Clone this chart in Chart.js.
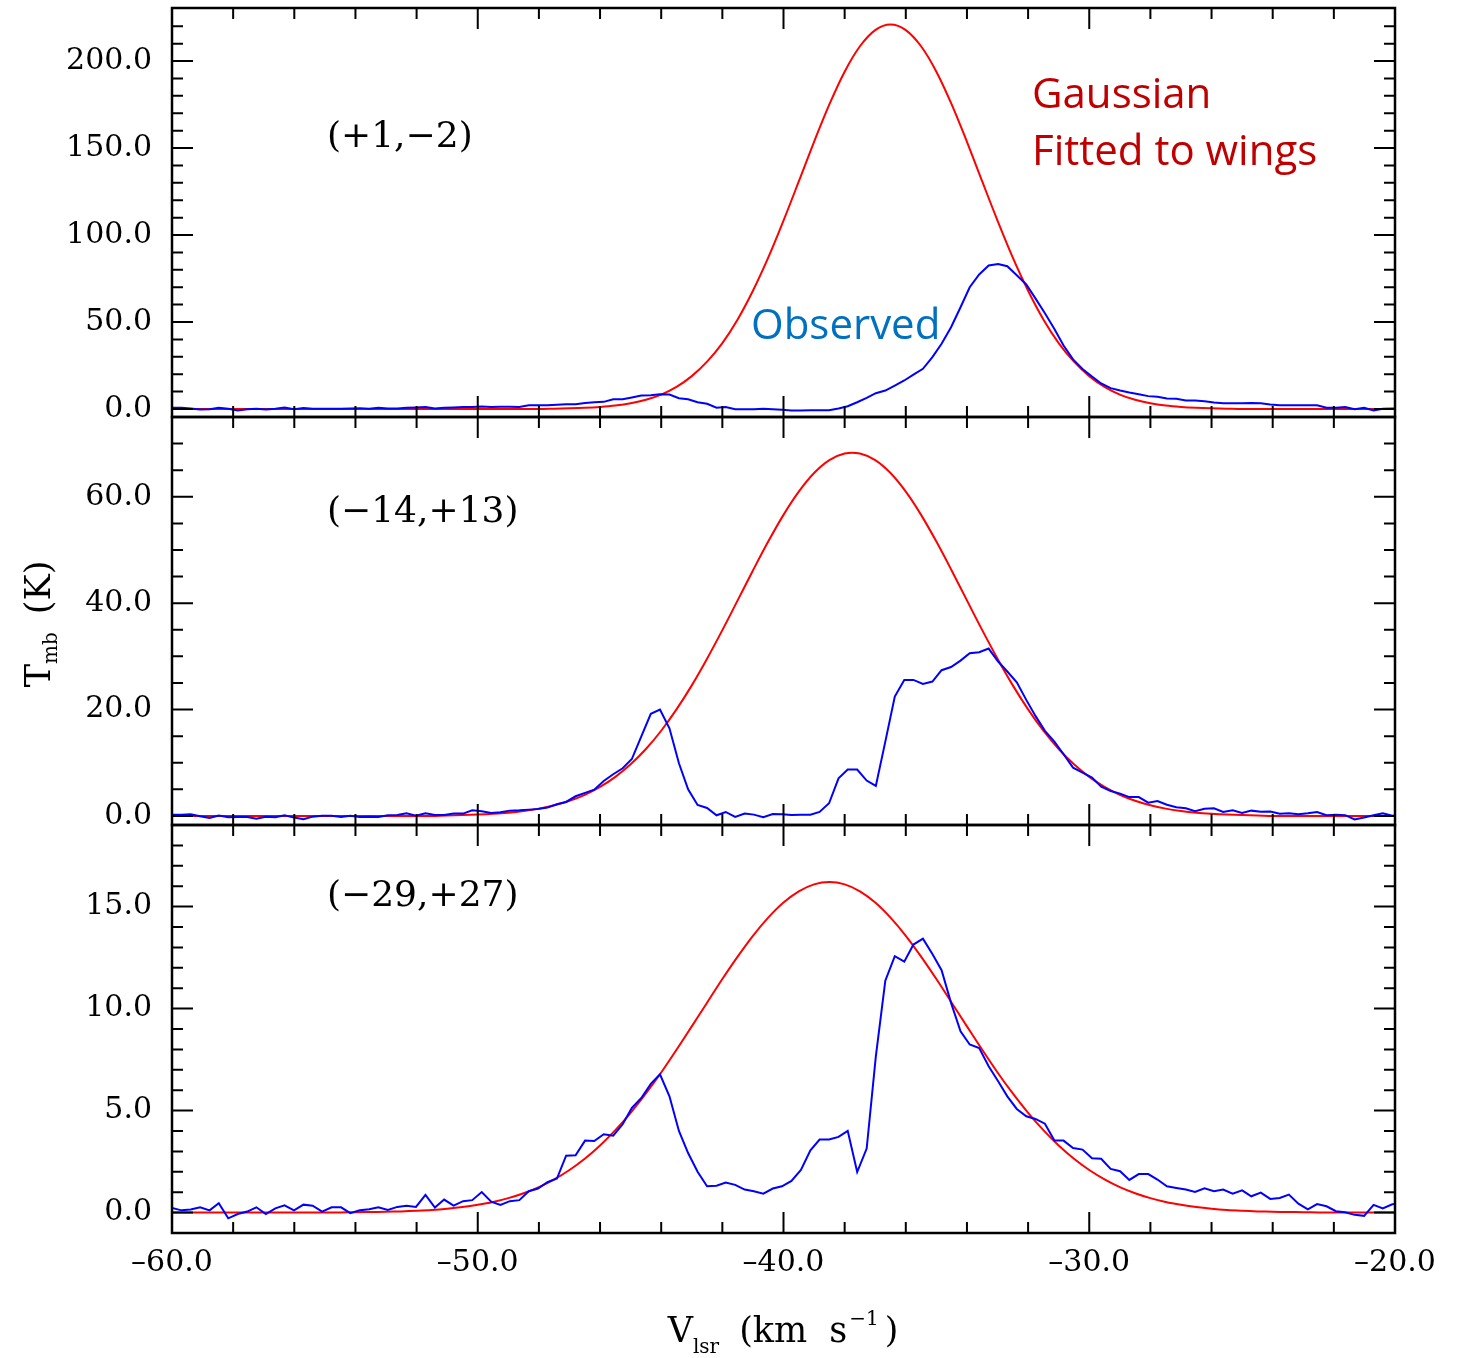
<!DOCTYPE html>
<html>
<head>
<meta charset="utf-8">
<title>Tmb spectra with Gaussian fits</title>
<script src="https://cdn.jsdelivr.net/npm/chart.js@4.4.1/dist/chart.umd.min.js"></script>
<style>
  html, body { margin: 0; padding: 0; background: #fff; }
  #wrap { position: relative; width: 1461px; height: 1358px; }
  #wrap canvas { position: absolute; left: 0; top: 0; }
</style>
</head>
<body>
<div id="wrap">
  <canvas id="panelTop" width="1461" height="1358"></canvas>
  <canvas id="panelMid" width="1461" height="1358"></canvas>
  <canvas id="panelBot" width="1461" height="1358"></canvas>
</div>
<script>
// channel velocities of the observed spectra (km/s)
const velocity = [
  -60.00, -59.69, -59.39, -59.08, -58.77, -58.47, -58.16, -57.85, -57.54, -57.24,
  -56.93, -56.62, -56.32, -56.01, -55.70, -55.40, -55.09, -54.78, -54.47, -54.17,
  -53.86, -53.55, -53.25, -52.94, -52.63, -52.33, -52.02, -51.71, -51.40, -51.10,
  -50.79, -50.48, -50.18, -49.87, -49.56, -49.26, -48.95, -48.64, -48.33, -48.03,
  -47.72, -47.41, -47.11, -46.80, -46.49, -46.19, -45.88, -45.57, -45.26, -44.96,
  -44.65, -44.34, -44.04, -43.73, -43.42, -43.12, -42.81, -42.50, -42.19, -41.89,
  -41.58, -41.27, -40.97, -40.66, -40.35, -40.05, -39.74, -39.43, -39.12, -38.82,
  -38.51, -38.20, -37.90, -37.59, -37.28, -36.98, -36.67, -36.36, -36.05, -35.75,
  -35.44, -35.13, -34.83, -34.52, -34.21, -33.91, -33.60, -33.29, -32.98, -32.68,
  -32.37, -32.06, -31.76, -31.45, -31.14, -30.84, -30.53, -30.22, -29.91, -29.61,
  -29.30, -28.99, -28.69, -28.38, -28.07, -27.77, -27.46, -27.15, -26.84, -26.54,
  -26.23, -25.92, -25.62, -25.31, -25.00, -24.70, -24.39, -24.08, -23.77, -23.47,
  -23.16, -22.85, -22.55, -22.24, -21.93, -21.63, -21.32, -21.01, -20.70, -20.40,
  -20.09, -19.78
];

// observed Tmb (K), position (+1,-2)
const obsTop = [
  0.7, 0.7, 0.3, -0.3, -0.1, 0.7, 0.1, -0.9, -0.1, 0.1,
  -0.3, 0.1, 0.9, -0.1, 0.5, 0.1, 0.1, 0.1, 0.1, 0.3,
  0.5, 0.1, 0.7, 0.3, 0.3, 0.7, 0.9, 1.1, 0.3, 0.7,
  0.9, 1.1, 1.1, 1.5, 1.1, 1.3, 1.3, 1.1, 2.1, 2.1,
  2.1, 2.5, 2.7, 2.7, 3.5, 3.9, 4.1, 5.6, 5.6, 6.6,
  7.7, 7.9, 8.5, 8.3, 6.2, 5.6, 3.9, 3.0, 0.7, 1.1,
  -0.1, -0.1, -0.1, 0.1, -0.1, -0.5, -0.9, -0.9, -0.7, -0.7,
  -0.7, 0.3, 1.6, 3.9, 6.4, 9.1, 10.6, 13.5, 16.4, 19.8,
  23.1, 29.8, 37.5, 47.0, 58.5, 70.0, 77.3, 82.5, 83.4, 82.1,
  76.9, 71.6, 63.6, 55.0, 46.0, 36.5, 28.5, 23.0, 18.7, 14.7,
  12.0, 10.6, 9.5, 8.5, 7.4, 7.0, 6.0, 5.9, 4.9, 4.9,
  4.5, 3.7, 3.3, 3.3, 3.3, 3.5, 3.3, 2.6, 2.2, 2.2,
  2.2, 2.2, 2.2, 0.7, 0.7, 1.1, -0.2, 0.7, -0.9, 0.1,
  0.3, 0.3
];

// observed Tmb (K), position (-14,+13)
const obsMid = [
  0.25, 0.25, 0.31, -0.06, -0.38, 0.06, -0.25, -0.19, -0.19, -0.50,
  -0.13, -0.25, 0.13, -0.31, -0.63, -0.13, 0.06, 0.06, -0.19, 0.06,
  -0.19, -0.13, -0.19, 0.13, 0.19, 0.50, 0.06, 0.50, 0.19, 0.19,
  0.44, 0.44, 1.07, 0.88, 0.56, 0.69, 1.00, 1.07, 1.19, 1.32,
  1.57, 2.19, 2.63, 3.70, 4.33, 4.95, 6.58, 7.84, 8.97, 10.70,
  14.95, 19.20, 20.00, 16.49, 9.91, 5.01, 2.07, 1.50, 0.13, 0.75,
  -0.19, 0.44, 0.25, -0.25, 0.38, 0.31, 0.19, 0.25, 0.25, 0.75,
  2.38, 7.08, 8.71, 8.71, 6.65, 5.64, 13.98, 22.44, 25.58, 25.58,
  24.83, 25.27, 27.40, 28.00, 29.20, 30.59, 30.78, 31.47, 29.03, 27.15,
  25.14, 21.82, 18.81, 15.99, 13.98, 11.60, 9.09, 8.15, 7.20, 5.50,
  4.70, 4.20, 3.55, 3.55, 2.50, 2.80, 2.10, 1.65, 1.45, 0.90,
  1.35, 1.45, 0.75, 1.05, 0.55, 1.00, 0.80, 0.85, 0.40, 0.50,
  0.30, 0.50, 0.75, 0.15, 0.25, 0.15, -0.65, -0.30, 0.15, 0.50,
  0.05, 0.10
];

// observed Tmb (K), position (-29,+27)
const obsBot = [
  0.23, 0.11, 0.15, 0.26, 0.11, 0.46, -0.28, -0.07, 0.05, 0.26,
  -0.07, 0.21, 0.36, 0.11, 0.39, 0.34, 0.05, 0.26, 0.26, -0.03,
  0.11, 0.16, 0.26, 0.13, 0.28, 0.33, 0.28, 0.87, 0.25, 0.64,
  0.34, 0.56, 0.61, 1.01, 0.54, 0.38, 0.56, 0.61, 1.05, 1.18,
  1.49, 1.67, 2.79, 2.81, 3.53, 3.51, 3.84, 3.77, 4.33, 5.13,
  5.62, 6.31, 6.78, 5.70, 4.00, 2.92, 2.00, 1.29, 1.32, 1.47,
  1.36, 1.13, 1.05, 0.93, 1.18, 1.29, 1.55, 2.09, 3.05, 3.58,
  3.58, 3.71, 4.01, 1.99, 3.14, 7.66, 11.37, 12.57, 12.30, 13.14,
  13.43, 12.68, 11.88, 10.28, 8.89, 8.24, 8.07, 7.17, 6.44, 5.70,
  5.08, 4.72, 4.59, 4.36, 3.53, 3.53, 3.17, 3.09, 2.66, 2.64,
  2.14, 2.03, 1.60, 1.89, 1.89, 1.62, 1.29, 1.21, 1.13, 1.01,
  1.19, 1.05, 1.13, 0.93, 1.09, 0.80, 0.98, 0.67, 0.72, 0.88,
  0.44, 0.16, 0.42, 0.31, 0.07, 0.02, -0.11, -0.16, 0.38, 0.21,
  0.41, 0.45
];

const fitVelocity = [
  -60, -59.5, -59, -58.5, -58, -57.5, -57, -56.5, -56, -55.5,
  -55, -54.5, -54, -53.5, -53, -52.5, -52, -51.5, -51, -50.5,
  -50, -49.5, -49, -48.5, -48, -47.5, -47, -46.5, -46, -45.5,
  -45, -44.5, -44, -43.5, -43, -42.5, -42, -41.5, -41, -40.5,
  -40, -39.5, -39, -38.5, -38, -37.5, -37, -36.5, -36, -35.5,
  -35, -34.5, -34, -33.5, -33, -32.5, -32, -31.5, -31, -30.5,
  -30, -29.5, -29, -28.5, -28, -27.5, -27, -26.5, -26, -25.5,
  -25, -24.5, -24, -23.5, -23, -22.5, -22, -21.5, -21, -20.5,
  -20
];

const fitTop = [
  0, 0, 0, 0, 0, 0, 0, 0, 0, 0,
  0, 0, 0, 0, 0, 0, 0, 0, 0, 0,
  0, 0, 0, 0, 0, 0.2, 0.4, 0.7, 1.2, 2.0,
  3.3, 5.3, 8.3, 12.7, 18.9, 27.2, 37.9, 51.5, 68.0, 87.0,
  108.3, 130.8, 153.6, 175.1, 193.9, 208.5, 217.8, 221.0, 217.8, 208.5,
  193.9, 175.1, 153.6, 130.8, 108.3, 87.0, 68.0, 51.5, 37.9, 27.2,
  18.9, 12.7, 8.3, 5.3, 3.3, 2.0, 1.2, 0.7, 0.4, 0.2,
  0, 0, 0, 0, 0, 0, 0, 0, 0, 0,
  0
];

const fitMid = [
  0, 0, 0, 0, 0, 0, 0, 0, 0, 0,
  0, 0, 0, 0, 0, 0, 0, 0, 0.10, 0.16,
  0.26, 0.41, 0.62, 0.94, 1.38, 2.00, 2.85, 3.98, 5.46, 7.35,
  9.71, 12.59, 16.02, 20.03, 24.55, 29.56, 34.93, 40.52, 46.15, 51.58,
  56.60, 60.96, 64.46, 66.89, 68.14, 68.14, 66.89, 64.46, 60.96, 56.60,
  51.58, 46.15, 40.52, 34.93, 29.56, 24.55, 20.03, 16.02, 12.59, 9.71,
  7.35, 5.46, 3.98, 2.85, 2.00, 1.38, 0.94, 0.62, 0.41, 0.26,
  0.16, 0.10, 0, 0, 0, 0, 0, 0, 0, 0,
  0
];

const fitBot = [
  0, 0, 0, 0, 0, 0, 0, 0, 0, 0,
  0, 0.01, 0.02, 0.03, 0.04, 0.06, 0.09, 0.13, 0.19, 0.27,
  0.38, 0.52, 0.71, 0.95, 1.25, 1.63, 2.09, 2.64, 3.29, 4.04,
  4.89, 5.84, 6.87, 7.98, 9.13, 10.29, 11.45, 12.55, 13.57, 14.46,
  15.20, 15.75, 16.09, 16.20, 16.09, 15.75, 15.20, 14.46, 13.57, 12.55,
  11.45, 10.29, 9.13, 7.98, 6.87, 5.84, 4.89, 4.04, 3.29, 2.64,
  2.09, 1.63, 1.25, 0.95, 0.71, 0.52, 0.38, 0.27, 0.19, 0.13,
  0.09, 0.06, 0.04, 0.03, 0.02, 0.01, 0, 0, 0, 0,
  0
];

// tick positions
const xMajor = [-60, -50, -40, -30, -20];
const xMinor = [-58, -56, -54, -52, -48, -46, -44, -42, -38, -36, -34, -32, -28, -26, -24, -22];
const yMajorTop = [0, 50, 100, 150, 200];
const yMinorTop = [10, 20, 30, 40, 60, 70, 80, 90, 110, 120, 130, 140, 160, 170, 180, 190, 210, 220];
const yMajorMid = [0, 20, 40, 60];
const yMinorMid = [5, 10, 15, 25, 30, 35, 45, 50, 55, 65, 70];
const yMajorBot = [0, 5, 10, 15];
const yMinorBot = [1, 2, 3, 4, 6, 7, 8, 9, 11, 12, 13, 14, 16, 17, 18];

const SERIF = '"DejaVu Serif", "Liberation Serif", serif';
const SANS = '"Open Sans", "Noto Sans", sans-serif';

function fmtTick(v) {
  return Number(v).toFixed(1).replace('-', '\u2013');
}

function drawRuns(ctx, runs, x, y) {
  runs.forEach(function (r) {
    ctx.font = r.size + 'px ' + SERIF;
    ctx.fillText(r.text, x, y + (r.dy || 0));
    x += ctx.measureText(r.text).width + (r.gap || 0);
  });
}

function runsWidth(ctx, runs) {
  let w = 0;
  runs.forEach(function (r) {
    ctx.font = r.size + 'px ' + SERIF;
    w += ctx.measureText(r.text).width + (r.gap || 0);
  });
  return w;
}

// frame, inward ticks and the text drawn inside each panel
const frameTicks = {
  id: 'frameTicks',
  afterDatasetsDraw: function (chart, args, opts) {
    const ctx = chart.ctx;
    const a = chart.chartArea;
    const xs = chart.scales.x;
    const ys = chart.scales.y;
    ctx.save();
    ctx.strokeStyle = '#000';
    ctx.lineWidth = 2;
    ctx.beginPath();
    function vTick(v, len) {
      const px = xs.getPixelForValue(v);
      ctx.moveTo(px, a.top); ctx.lineTo(px, a.top + len);
      ctx.moveTo(px, a.bottom); ctx.lineTo(px, a.bottom - len);
    }
    function hTick(v, len) {
      const py = ys.getPixelForValue(v);
      ctx.moveTo(a.left, py); ctx.lineTo(a.left + len, py);
      ctx.moveTo(a.right, py); ctx.lineTo(a.right - len, py);
    }
    xMajor.forEach(v => vTick(v, 21));
    xMinor.forEach(v => vTick(v, 11));
    opts.yMajor.forEach(v => hTick(v, 21));
    opts.yMinor.forEach(v => hTick(v, 11));
    ctx.stroke();
    ctx.lineWidth = 2.5;
    ctx.strokeRect(a.left, a.top, a.right - a.left, a.bottom - a.top);

    ctx.fillStyle = '#000';
    ctx.textAlign = 'left';
    ctx.textBaseline = 'middle';
    ctx.font = '36px ' + SERIF;
    ctx.fillText(opts.label, opts.labelX, opts.labelY);

    ctx.textBaseline = 'alphabetic';
    (opts.notes || []).forEach(function (n) {
      ctx.fillStyle = n.color;
      ctx.font = '42px ' + SANS;
      ctx.fillText(n.text, n.x, n.y);
    });

    if (opts.axisTitles) {
      ctx.fillStyle = '#000';
      const xTitle = [
        { text: 'V', size: 35 },
        { text: 'lsr', size: 20, dy: 11, gap: 20 },
        { text: '(km', size: 35, gap: 22 },
        { text: 's', size: 35, gap: 2 },
        { text: '\u22121', size: 20, dy: -17, gap: 6 },
        { text: ')', size: 35 }
      ];
      drawRuns(ctx, xTitle, 783 - runsWidth(ctx, xTitle) / 2, 1342);

      const yTitle = [
        { text: 'T', size: 35 },
        { text: 'mb', size: 20, dy: 7, gap: 18 },
        { text: '(K)', size: 35 }
      ];
      ctx.save();
      ctx.translate(50, 624);
      ctx.rotate(-Math.PI / 2);
      drawRuns(ctx, yTitle, -runsWidth(ctx, yTitle) / 2, 0);
      ctx.restore();
    }
    ctx.restore();
  }
};

function makePanel(id, cfg) {
  return new Chart(document.getElementById(id), {
    type: 'line',
    data: {
      datasets: [
        {
          label: 'Observed',
          data: velocity.map((v, i) => ({ x: v, y: cfg.obs[i] })),
          borderColor: '#0000ff',
          borderWidth: 2,
          pointRadius: 0,
          tension: 0
        },
        {
          label: 'Gaussian fitted to wings',
          data: fitVelocity.map((v, i) => ({ x: v, y: cfg.fit[i] })),
          borderColor: '#ff0000',
          borderWidth: 2,
          pointRadius: 0,
          tension: 0.35
        }
      ]
    },
    options: {
      responsive: false,
      animation: false,
      events: [],
      layout: { padding: { top: cfg.padTop, bottom: cfg.padBottom, left: 0, right: 66 } },
      plugins: {
        legend: { display: false },
        tooltip: { enabled: false },
        frameTicks: {
          yMajor: cfg.yMajor,
          yMinor: cfg.yMinor,
          label: cfg.label,
          labelX: 327,
          labelY: cfg.labelY,
          notes: cfg.notes,
          axisTitles: cfg.showX
        }
      },
      scales: {
        x: {
          type: 'linear',
          min: -60,
          max: -20,
          display: cfg.showX,
          grid: { display: false, drawTicks: false },
          border: { display: false },
          ticks: {
            font: { family: SERIF, size: 30 },
            color: '#000',
            padding: 12,
            maxRotation: 0,
            autoSkip: false,
            callback: fmtTick
          },
          afterBuildTicks: function (s) { s.ticks = xMajor.map(v => ({ value: v })); },
          afterFit: function (s) {
            s.height = cfg.showX ? 125 : 0;
            s.paddingLeft = 0;
            s.paddingRight = 0;
          }
        },
        y: {
          type: 'linear',
          min: cfg.yMin,
          max: cfg.yMax,
          grid: { display: false, drawTicks: false },
          border: { display: false },
          ticks: {
            font: { family: SERIF, size: 30 },
            color: '#000',
            padding: 20,
            autoSkip: false,
            callback: fmtTick
          },
          afterBuildTicks: function (s) { s.ticks = cfg.yMajor.map(v => ({ value: v })); },
          afterFit: function (s) { s.width = 172; s.paddingTop = 0; s.paddingBottom = 0; }
        }
      }
    },
    plugins: [frameTicks]
  });
}

makePanel('panelTop', {
  obs: obsTop, fit: fitTop,
  yMin: -4.6, yMax: 230.5,
  yMajor: yMajorTop, yMinor: yMinorTop,
  padTop: 8, padBottom: 1358 - 417,
  label: '(+1,\u22122)', labelY: 138,
  showX: false,
  notes: [
    { text: 'Gaussian', x: 1032, y: 108, color: '#c00000' },
    { text: 'Fitted to wings', x: 1032, y: 165, color: '#c00000' },
    { text: 'Observed', x: 751, y: 339, color: '#0070c0' }
  ]
});

makePanel('panelMid', {
  obs: obsMid, fit: fitMid,
  yMin: -1.7, yMax: 75,
  yMajor: yMajorMid, yMinor: yMinorMid,
  padTop: 417, padBottom: 1358 - 825,
  label: '(\u221214,+13)', labelY: 513,
  showX: false
});

makePanel('panelBot', {
  obs: obsBot, fit: fitBot,
  yMin: -1, yMax: 19,
  yMajor: yMajorBot, yMinor: yMinorBot,
  padTop: 825, padBottom: 0,
  label: '(\u221229,+27)', labelY: 897,
  showX: true
});
</script>
</body>
</html>
